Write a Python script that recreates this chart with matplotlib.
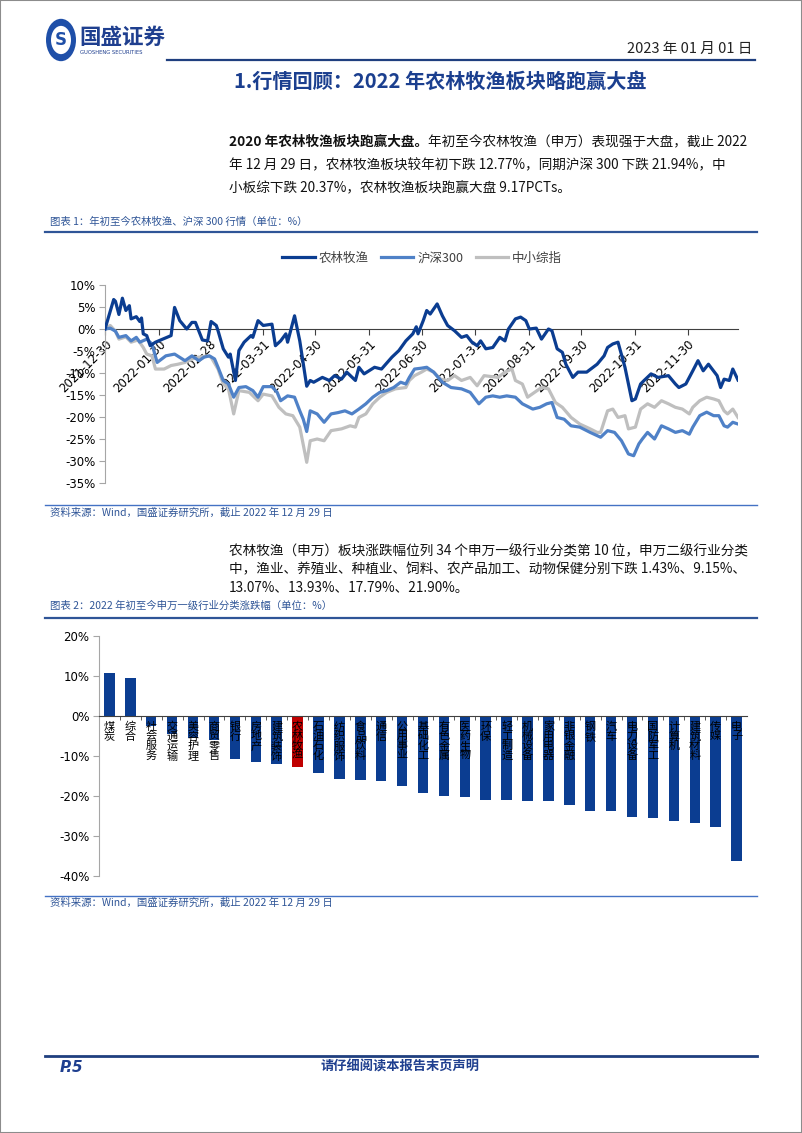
import matplotlib
matplotlib.use('Agg')
import matplotlib.pyplot as plt
from matplotlib.patches import Circle, Rectangle
from matplotlib.lines import Line2D
import pandas as pd

plt.rcParams['font.family'] = ['Noto Sans CJK SC', 'DejaVu Sans']

W, H = 802, 1133
BLUE_TXT = '#1B3F8F'
CAP_BLUE = '#2F5597'

# ---- chart 1 data: day offsets from 2021-12-30 and cumulative return (%)
start_date = '2021-12-30'
end_date = '2022-12-29'
agri_days = [0, 5, 6, 8, 10, 12, 14, 15, 18, 20, 21, 22, 24, 26, 29, 38, 40, 43, 47, 50, 52, 56, 59, 61, 64, 65,
             68, 71, 72, 75, 77, 80, 84, 85, 88, 91, 96, 98, 101, 104, 105, 109, 112, 116, 118, 120, 125, 129,
             132, 136, 139, 144, 146, 149, 155, 159, 165, 169, 173, 177, 179, 180, 183, 185, 187, 191, 194, 197,
             201, 205, 208, 211, 214, 216, 219, 223, 227, 230, 232, 236, 239, 242, 244, 248, 251, 255, 257, 260,
             263, 265, 269, 272, 277, 283, 287, 289, 292, 295, 299, 301, 303, 305, 308, 310, 314, 318, 324, 328,
             330, 334, 338, 341, 344, 347, 352, 354, 356, 359, 361, 364]
agri_vals = [0, 6.7, 6.3, 3.3, 7.0, 4.2, 5.3, 2.3, 2.8, 1.7, 2.5, -1.1, -1.5, -3.8, -3.0, -1.5, 4.9, 1.9, 0.0, 1.5,
             1.5, -2.5, -2.7, 1.7, 0.8, -0.4, -4.5, -6.4, -5.7, -11.7, -4.9, -3.0, -1.5, -1.9, 1.9, 0.8, 1.1, -3.8,
             -2.7, -1.1, -3.0, 3.0, -2.7, -13.0, -11.7, -12.1, -11.0, -11.7, -10.6, -11.4, -9.8, -11.7, -8.7,
             -10.2, -8.7, -9.1, -6.4, -4.9, -2.7, -1.1, 0.5, -1.1, 1.9, 4.2, 3.4, 5.7, 3.0, 0.8, -0.4, -1.9, -1.5,
             -3.0, -3.8, -2.7, -4.5, -4.2, -1.9, -2.7, 0.0, 2.3, 2.7, 1.9, 0.0, 0.2, -2.3, 0.0, -0.4, -4.5, -5.3,
             -8.0, -11.0, -9.8, -9.8, -8.0, -6.1, -4.2, -3.4, -3.0, -8.7, -12.5, -16.3, -15.9, -12.5, -11.7,
             -10.2, -11.0, -10.6, -12.5, -13.3, -12.5, -9.5, -7.2, -9.5, -8.0, -10.6, -13.3, -11.4, -11.7, -9.1,
             -11.6]
hs300_days = [0, 3, 6, 8, 12, 15, 18, 20, 24, 27, 30, 35, 40, 46, 50, 54, 57, 60, 63, 65, 68, 71, 74, 77, 81, 85,
              88, 91, 96, 99, 101, 105, 109, 112, 114, 116, 118, 122, 126, 130, 134, 138, 142, 146, 150, 154,
              158, 162, 166, 170, 173, 175, 178, 182, 185, 189, 194, 199, 205, 210, 215, 219, 223, 227, 231,
              236, 240, 246, 250, 254, 257, 260, 264, 268, 273, 279, 285, 289, 293, 297, 301, 304, 307, 309,
              312, 316, 320, 324, 328, 332, 336, 338, 342, 346, 350, 353, 356, 358, 361, 364]
hs300_vals = [0, 0.2, -0.5, -1.9, -1.5, -2.7, -1.9, -3.0, -2.3, -3.4, -7.6, -6.1, -5.7, -7.2, -6.1, -7.2, -6.4,
              -6.1, -6.8, -8.7, -11.7, -12.5, -15.5, -13.3, -13.1, -14.0, -15.5, -13.1, -13.1, -14.4, -16.3,
              -15.2, -15.5, -18.6, -20.5, -23.3, -18.6, -19.3, -21.2, -19.3, -19.0, -18.6, -19.3, -18.2, -17.0,
              -15.5, -14.4, -14.0, -13.3, -12.1, -12.5, -11.0, -9.1, -8.9, -8.7, -9.8, -12.1, -13.3, -13.6,
              -14.4, -17.0, -15.5, -15.2, -15.5, -15.2, -15.5, -17.0, -18.2, -17.8, -17.0, -16.7, -20.1, -20.5,
              -22.0, -22.3, -23.5, -24.6, -23.1, -23.5, -25.4, -28.4, -28.8, -26.1, -25.0, -23.5, -25.0, -22.0,
              -22.7, -23.5, -23.1, -23.9, -22.3, -19.7, -18.9, -19.7, -19.7, -22.0, -22.3, -21.2, -21.6]
sme_days = [0, 3, 6, 8, 12, 15, 19, 22, 24, 27, 29, 34, 38, 42, 46, 50, 54, 59, 61, 65, 68, 71, 74, 77, 83, 88,
            91, 96, 100, 104, 108, 112, 116, 118, 122, 126, 130, 136, 141, 144, 146, 150, 154, 158, 162, 167,
            173, 175, 178, 182, 185, 189, 193, 197, 201, 205, 210, 214, 218, 222, 226, 230, 234, 236, 240, 243,
            247, 251, 255, 259, 263, 268, 273, 279, 283, 285, 289, 292, 295, 299, 301, 305, 308, 312, 316, 320,
            324, 328, 332, 336, 338, 342, 346, 350, 353, 356, 358, 361, 364]
sme_vals = [0.2, 0.8, -0.5, -2.3, -1.8, -3.0, -2.5, -4.2, -5.7, -6.1, -9.1, -9.1, -8.3, -8.0, -7.6, -6.8, -6.4,
            -6.1, -6.4, -9.1, -12.5, -13.6, -19.3, -14.0, -14.4, -16.3, -14.8, -15.2, -17.8, -19.3, -19.7, -22.3,
            -30.3, -25.4, -25.0, -25.4, -23.1, -22.7, -22.0, -22.3, -20.1, -19.3, -17.0, -15.5, -14.4, -13.6,
            -13.3, -11.7, -10.6, -9.8, -9.1, -9.8, -11.4, -11.7, -10.6, -11.7, -11.0, -12.9, -10.6, -10.8, -11.0,
            -9.8, -9.1, -11.7, -12.5, -15.5, -14.4, -13.3, -13.6, -16.7, -17.8, -20.1, -21.6, -22.7, -23.5,
            -23.5, -18.6, -18.2, -20.1, -19.7, -22.7, -22.3, -18.2, -17.0, -17.8, -16.3, -17.0, -17.8, -18.2,
            -19.3, -17.8, -16.3, -15.5, -15.9, -16.3, -18.6, -19.3, -18.2, -20.1]
series_names = ['农林牧渔', '沪深300', '中小综指']
series_colors = ['#0B3D91', '#4F81C7', '#BFBFBF']
date_ticks = ['2021-12-30', '2022-01-30', '2022-02-28', '2022-03-31', '2022-04-30', '2022-05-31',
              '2022-06-30', '2022-07-31', '2022-08-31', '2022-09-30', '2022-10-31', '2022-11-30']
y1_ticks = [10, 5, 0, -5, -10, -15, -20, -25, -30, -35]

# ---- chart 2 data: Shenwan level-1 industries, 2022 YTD change (%)
industries = ['煤炭', '综合', '社会服务', '交通运输', '美容护理', '商贸零售', '银行', '房地产', '建筑装饰',
              '农林牧渔', '石油石化', '纺织服饰', '食品饮料', '通信', '公用事业', '基础化工', '有色金属',
              '医药生物', '环保', '轻工制造', '机械设备', '家用电器', '非银金融', '钢铁', '汽车', '电力设备',
              '国防军工', '计算机', '建筑材料', '传媒', '电子']
ind_change = [10.8, 9.5, -2.6, -4.6, -5.5, -5.9, -10.8, -11.5, -12.1, -12.8, -14.3, -15.8, -16.0, -16.3, -17.6,
              -19.3, -20.0, -20.2, -20.9, -21.0, -21.2, -21.3, -22.3, -23.7, -23.8, -25.3, -25.5, -26.3, -26.8,
              -27.8, -36.3]
y2_ticks = [20, 10, 0, -10, -20, -30, -40]


def rect(x0, y0, x1, y1):
    return [x0 / W, 1 - y1 / H, (x1 - x0) / W, (y1 - y0) / H]


def fx(x):
    return x / W


def fy(y):
    return 1 - y / H


fig = plt.figure(figsize=(W / 100, H / 100), dpi=100)

# page frame
fig.patches.append(Rectangle((0, 0), 1, 1, transform=fig.transFigure, fill=False,
                             edgecolor='#8C8C8C', lw=1.5))

# header: logo + date
fig.patches.append(Circle((fx(61), fy(40)), 15 / W, transform=fig.transFigure,
                          facecolor='#1F4FA8', edgecolor='none'))
fig.patches.append(Circle((fx(61), fy(40)), 10 / W, transform=fig.transFigure,
                          facecolor='white', edgecolor='none'))
fig.text(fx(61), fy(40), 'S', color='#1F4FA8', fontsize=12, fontweight='bold',
         ha='center', va='center', family='DejaVu Sans')
fig.text(fx(79), fy(37), '国盛证券', color='#1F3F8F', fontsize=15.5, fontweight='bold',
         ha='left', va='center')
fig.text(fx(80), fy(53), 'GUOSHENG SECURITIES', color='#1F3F8F', fontsize=3.8,
         ha='left', va='center', family='DejaVu Sans')
fig.text(fx(752), fy(49), '2023 年 01 月 01 日', fontsize=10.5, ha='right', va='center', color='#222222')
fig.add_artist(Line2D([fx(167), fx(755)], [fy(60), fy(60)], color='#1F3F7F', lw=1.6))

fig.text(fx(440), fy(81), '1.行情回顾：2022 年农林牧渔板块略跑赢大盘', color=BLUE_TXT,
         fontsize=14.5, fontweight='bold', ha='center', va='center')

fig.canvas.draw()
renderer = fig.canvas.get_renderer()


def mixed_line(x, y, parts, size=9.8):
    # parts: list of (text, weight)
    cur = x
    for txt, weight in parts:
        t = fig.text(fx(cur), fy(y), txt, fontsize=size, fontweight=weight,
                     ha='left', va='center', color='#111111')
        cur += t.get_window_extent(renderer).width


mixed_line(229, 142, [('2020 年农林牧渔板块跑赢大盘。', 'bold'),
                      ('年初至今农林牧渔（申万）表现强于大盘，截止 2022', 'normal')])
mixed_line(229, 165, [('年 12 月 29 日，农林牧渔板块较年初下跌 12.77%，同期沪深 300 下跌 21.94%，中', 'normal')])
mixed_line(229, 188, [('小板综下跌 20.37%，农林牧渔板块跑赢大盘 9.17PCTs。', 'normal')])

# chart 1 caption
fig.text(fx(50), fy(222), '图表 1：年初至今农林牧渔、沪深 300 行情（单位：%）', color=CAP_BLUE,
         fontsize=7.5, ha='left', va='center')
fig.add_artist(Line2D([fx(45), fx(757)], [fy(232), fy(232)], color='#2F5597', lw=1.6))

# chart 1
ax1 = fig.add_axes(rect(105, 285, 738, 483))
t0 = pd.Timestamp(start_date)
handles = []
for days, vals, name, col in reversed(list(zip([agri_days, hs300_days, sme_days],
                                                [agri_vals, hs300_vals, sme_vals],
                                                series_names, series_colors))):
    ln, = ax1.plot(t0 + pd.to_timedelta(days, unit='D'), vals, color=col, lw=2.3, label=name,
                   zorder=3, solid_joinstyle='round')
    handles.insert(0, ln)
ax1.set_xlim(t0, pd.Timestamp(end_date))
ax1.set_ylim(-35, 10)
ax1.set_yticks(y1_ticks)
ax1.set_yticklabels([f'{v}%' for v in y1_ticks], fontsize=8.5, family='DejaVu Sans')
ax1.spines['top'].set_visible(False)
ax1.spines['right'].set_visible(False)
ax1.spines['bottom'].set_position(('data', 0))
ax1.spines['bottom'].set_color('#404040')
ax1.spines['bottom'].set_zorder(2)
ax1.spines['left'].set_color('#A6A6A6')
ax1.set_xticks(pd.to_datetime(date_ticks))
ax1.set_xticklabels(date_ticks, rotation=45, ha='right', va='top', rotation_mode='anchor',
                    fontsize=8.5, family='DejaVu Sans')
ax1.tick_params(axis='x', length=4, color='#404040', pad=2)
ax1.tick_params(axis='y', length=4, color='#A6A6A6', pad=3)
ax1.set_facecolor('none')

fig.legend(handles=handles, loc='center', bbox_to_anchor=(fx(422), fy(258)), ncol=3, frameon=False,
           fontsize=9, handlelength=2.6, columnspacing=1.0, handletextpad=0.3, labelcolor='#404040')

# chart 1 source
fig.add_artist(Line2D([fx(45), fx(757)], [fy(505), fy(505)], color='#4472C4', lw=1.0))
fig.text(fx(50), fy(513), '资料来源：Wind，国盛证券研究所，截止 2022 年 12 月 29 日', color=CAP_BLUE,
         fontsize=7.5, ha='left', va='center')

# paragraph 2
mixed_line(229, 551, [('农林牧渔（申万）板块涨跌幅位列 34 个申万一级行业分类第 10 位，申万二级行业分类', 'normal')])
mixed_line(229, 569, [('中，渔业、养殖业、种植业、饲料、农产品加工、动物保健分别下跌 1.43%、9.15%、', 'normal')])
mixed_line(229, 588, [('13.07%、13.93%、17.79%、21.90%。', 'normal')])

# chart 2 caption
fig.text(fx(50), fy(606), '图表 2：2022 年初至今申万一级行业分类涨跌幅（单位：%）', color=CAP_BLUE,
         fontsize=7.5, ha='left', va='center')
fig.add_artist(Line2D([fx(45), fx(757)], [fy(618), fy(618)], color='#2F5597', lw=1.6))

# chart 2
ax2 = fig.add_axes(rect(99, 636, 747, 876))
xs = list(range(len(industries)))
bar_cols = ['#C00000' if n == '农林牧渔' else '#0B3D91' for n in industries]
ax2.bar(xs, ind_change, width=0.5, color=bar_cols, zorder=1)
ax2.set_xlim(-0.5, len(industries) - 0.5)
ax2.set_ylim(-40, 20)
ax2.set_yticks(y2_ticks)
ax2.set_yticklabels([f'{v}%' for v in y2_ticks], fontsize=8.5, family='DejaVu Sans')
ax2.spines['top'].set_visible(False)
ax2.spines['right'].set_visible(False)
ax2.spines['bottom'].set_position(('data', 0))
ax2.spines['bottom'].set_color('#404040')
ax2.spines['left'].set_color('#A6A6A6')
ax2.set_xticks(xs)
ax2.set_xticklabels(['\n'.join(n) for n in industries], fontsize=8, va='top', linespacing=0.95)
ax2.tick_params(axis='x', which='major', length=0, pad=4)
ax2.set_xticks([x + 0.5 for x in xs[:-1]], minor=True)
ax2.tick_params(axis='x', which='minor', length=3, color='#404040')
ax2.tick_params(axis='y', length=4, color='#A6A6A6', pad=3)
ax2.set_facecolor('none')

# chart 2 source
fig.add_artist(Line2D([fx(45), fx(757)], [fy(896), fy(896)], color='#4472C4', lw=1.0))
fig.text(fx(50), fy(903), '资料来源：Wind，国盛证券研究所，截止 2022 年 12 月 29 日', color=CAP_BLUE,
         fontsize=7.5, ha='left', va='center')

# footer
fig.add_artist(Line2D([fx(45), fx(757)], [fy(1056), fy(1056)], color='#1F3F7F', lw=2.0))
fig.text(fx(60), fy(1067), 'P.5', color='#1F3F8F', fontsize=11, fontweight='bold', style='italic',
         ha='left', va='center', family='DejaVu Sans')
fig.text(fx(400), fy(1067), '请仔细阅读本报告末页声明', color='#1F3F8F', fontsize=9.5, fontweight='bold',
         ha='center', va='center')

fig.savefig('out.png', dpi=100)
